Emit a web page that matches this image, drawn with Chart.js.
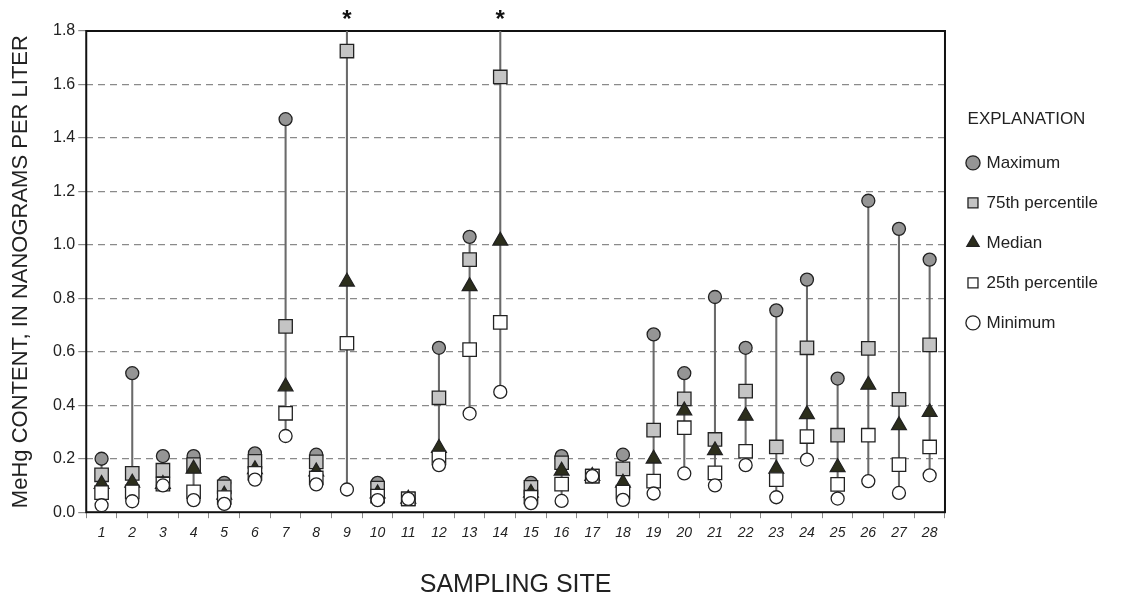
<!DOCTYPE html>
<html>
<head>
<meta charset="utf-8">
<script src="https://cdn.jsdelivr.net/npm/chart.js@4.4.1/dist/chart.umd.min.js"></script>
<style>
  html, body { margin: 0; padding: 0; background: #fff; }
  #wrap { width: 1129px; height: 597px; }
</style>
</head>
<body>
<div id="wrap"><canvas id="chart"></canvas></div>
<script>
// MeHg content by sampling site (ng/L)
const sites = ["1","2","3","4","5","6","7","8","9","10","11","12","13","14","15","16","17","18","19","20","21","22","23","24","25","26","27","28"];

const maxVals = [0.20, 0.52, 0.21, 0.21, 0.11, 0.22, 1.47, 0.215, null, 0.11, 0.05, 0.615, 1.03, null, 0.11, 0.21, 0.135, 0.215, 0.665, 0.52, 0.805, 0.615, 0.755, 0.87, 0.50, 1.165, 1.06, 0.945];
const p75Vals = [0.14, 0.145, 0.157, 0.178, 0.095, 0.19, 0.695, 0.188, 1.725, 0.09, 0.05, 0.428, 0.945, 1.628, 0.093, 0.185, 0.135, 0.162, 0.307, 0.424, 0.272, 0.453, 0.244, 0.615, 0.288, 0.613, 0.422, 0.626];
const medianVals = [0.105, 0.11, 0.105, 0.162, 0.065, 0.16, 0.47, 0.152, 0.862, 0.07, 0.05, 0.24, 0.845, 1.015, 0.072, 0.155, 0.135, 0.11, 0.20, 0.38, 0.231, 0.36, 0.162, 0.366, 0.168, 0.476, 0.325, 0.374];
const p25Vals = [0.073, 0.076, 0.105, 0.076, 0.055, 0.145, 0.37, 0.128, 0.632, 0.06, 0.05, 0.203, 0.608, 0.71, 0.056, 0.105, 0.135, 0.075, 0.116, 0.316, 0.147, 0.228, 0.122, 0.283, 0.104, 0.288, 0.178, 0.244];
const minVals = [0.026, 0.041, 0.10, 0.045, 0.031, 0.122, 0.285, 0.104, 0.085, 0.045, 0.05, 0.176, 0.369, 0.45, 0.034, 0.042, 0.135, 0.046, 0.07, 0.145, 0.10, 0.176, 0.056, 0.197, 0.051, 0.116, 0.072, 0.138];

// sites whose maximum is off the scale (marked with *)
const offScale = ["9", "14"];

const yMin = 0, yMax = 1.8, yStep = 0.2;

const FONT = "'Liberation Sans', Arial, sans-serif";
const INK = "#222";

// range line from minimum to maximum (clipped at top for off-scale sites)
const ranges = sites.map((s, i) => [minVals[i], maxVals[i] == null ? yMax : maxVals[i]]);

// frame around the plot
const framePlugin = {
  id: "frame",
  beforeDatasetsDraw(chart) {
    const { ctx, chartArea: a } = chart;
    ctx.save();
    ctx.strokeStyle = "#111";
    ctx.lineWidth = 2;
    ctx.strokeRect(a.left, a.top, a.right - a.left, a.bottom - a.top);
    ctx.restore();
  }
};

// asterisks above off-scale sites
const starPlugin = {
  id: "stars",
  afterDatasetsDraw(chart) {
    const { ctx, chartArea: a } = chart;
    const x = chart.scales.x;
    ctx.save();
    ctx.fillStyle = "#111";
    ctx.font = "bold 24px " + FONT;
    ctx.textAlign = "center";
    ctx.textBaseline = "middle";
    offScale.forEach(s => {
      ctx.fillText("*", x.getPixelForValue(sites.indexOf(s)), a.top - 11);
    });
    ctx.restore();
  }
};

function markers(label, data, style, radius, fill, order) {
  return {
    type: "line",
    label,
    data,
    showLine: false,
    pointStyle: style,
    pointRadius: radius,
    pointHoverRadius: radius,
    backgroundColor: fill,
    borderColor: "#222",
    borderWidth: 1.3,
    order
  };
}

new Chart(document.getElementById("chart"), {
  type: "bar",
  data: {
    labels: sites,
    datasets: [
      {
        type: "bar",
        label: "range",
        data: ranges,
        backgroundColor: "#6a6a6a",
        barThickness: 1.4,
        order: 10
      },
      markers("Maximum", maxVals, "circle", 6.5, "#959595", 5),
      markers("75th percentile", p75Vals, "rect", 9.5, "#c4c4c4", 4),
      markers("Median", medianVals, "triangle", 8.5, "#2c2e1c", 3),
      markers("25th percentile", p25Vals, "rect", 9.5, "#ffffff", 2),
      markers("Minimum", minVals, "circle", 6.5, "#ffffff", 1)
    ]
  },
  options: {
    responsive: true,
    maintainAspectRatio: false,
    animation: false,
    layout: { padding: { top: 31, left: 8, right: 21, bottom: 0 } },
    plugins: {
      tooltip: { enabled: false },
      legend: {
        position: "right",
        align: "start",
        title: {
          display: true,
          text: "EXPLANATION",
          color: INK,
          font: { family: FONT, size: 17 },
          padding: { top: 80, bottom: 0 }
        },
        labels: {
          usePointStyle: true,
          boxWidth: 10,
          boxHeight: 10,
          padding: 23,
          color: INK,
          font: { family: FONT, size: 17 },
          filter: item => item.text !== "range",
          sort: (a, b) => a.datasetIndex - b.datasetIndex
        }
      }
    },
    scales: {
      x: {
        type: "category",
        offset: true,
        grid: { offset: true, drawOnChartArea: false, tickLength: 6, color: "#888" },
        border: { display: false },
        ticks: {
          color: INK,
          padding: 7,
          font: { family: FONT, size: 14, style: "italic" }
        },
        title: {
          display: true,
          text: "SAMPLING SITE",
          color: INK,
          font: { family: FONT, size: 25 },
          padding: { top: 21, bottom: -3 }
        }
      },
      y: {
        min: yMin,
        max: yMax,
        grid: {
          color: ctx => (ctx.tick && (ctx.tick.value === yMin || Math.abs(ctx.tick.value - yMax) < 1e-9)) ? "rgba(0,0,0,0)" : "#8a8a8a",
          tickColor: "#888",
          tickLength: 8,
          lineWidth: 1.2
        },
        border: { display: false, dash: [7, 5] },
        ticks: {
          stepSize: yStep,
          color: INK,
          padding: 3,
          font: { family: FONT, size: 16 },
          callback: v => Number(v).toFixed(1)
        },
        title: {
          display: true,
          text: "MeHg CONTENT, IN NANOGRAMS PER LITER",
          color: INK,
          font: { family: FONT, size: 22 },
          padding: { top: 0, bottom: 15.6 }
        }
      }
    }
  },
  plugins: [framePlugin, starPlugin]
});
</script>
</body>
</html>
